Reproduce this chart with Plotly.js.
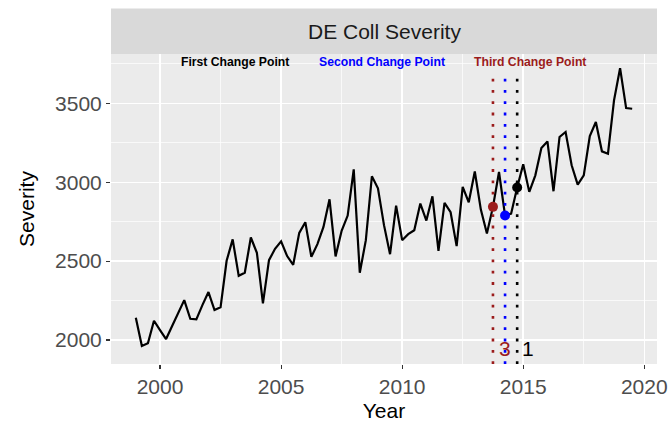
<!DOCTYPE html>
<html>
<head>
<meta charset="utf-8">
<script src="https://cdn.plot.ly/plotly-3.0.1.min.js"></script>
<style>html,body{margin:0;padding:0;background:#fff;}</style>
</head>
<body>
<div id="chart" style="width:672px;height:423px;"></div>
<script>
// Quarterly observations, 1999 Q1 .. 2019 Q3
const years = [];
for (let i = 0; i < 83; i++) years.push(1999 + i * 0.25);

const severity = [
  2141, 1962, 1979, 2122, 2063, 2006, 2089, 2171, 2253, 2135,
  2131, 2221, 2304, 2190, 2207, 2502, 2638, 2407, 2426, 2650,
  2553, 2232, 2506, 2578, 2625, 2532, 2477, 2679, 2747, 2527,
  2608, 2717, 2892, 2530, 2692, 2789, 3082, 2426, 2633, 3038,
  2962, 2728, 2544, 2852, 2633, 2671, 2696, 2865, 2757, 2911,
  2565, 2869, 2810, 2595, 2971, 2873, 3068, 2827, 2675, 2844,
  3065, 2789, 2801, 2967, 3114, 2939, 3044, 3217, 3259, 2943,
  3287, 3319, 3108, 2985, 3044, 3293, 3382, 3196, 3181, 3519,
  3723, 3470, 3466
];

const changeYears  = [2014.75, 2014.25, 2013.75];
const changeColors = ['#000000', '#0000FF', '#9B1C1C'];
const changeNames  = ['First Change Point', 'Second Change Point', 'Third Change Point'];
const labelX       = [2003.1, 2009.15, 2015.3];
const labelY       = 3761;
const rankText     = ['1', '3'];
const rankX        = [2015.2, 2014.25];
const rankColors   = ['#000000', '#9B1C1C'];
const rankY        = 1949;

const xRange = [1997.975, 2020.525];
const yRange = [1848, 3813];

const traces = [{
  x: years, y: severity, type: 'scatter', mode: 'lines',
  line: {color: '#000000', width: 2.2}, hoverinfo: 'skip', showlegend: false
}];

changeYears.forEach((cy, k) => {
  const idx = years.indexOf(cy);
  traces.push({
    x: [cy], y: [severity[idx]], type: 'scatter', mode: 'markers',
    marker: {color: changeColors[k], size: 10}, showlegend: false, hoverinfo: 'skip'
  });
});

const yTop = 3690;
const shapes = changeYears.map((cy, k) => ({
  type: 'line', xref: 'x', yref: 'y', x0: cy, x1: cy, y0: yRange[0], y1: yTop,
  line: {color: changeColors[k], width: 2.6, dash: '2.8px,8.5px'}, layer: 'above'
}));
const stripH = 45.5 / 310;
shapes.push({
  type: 'rect', xref: 'paper', yref: 'paper', x0: 0, x1: 1, y0: 1, y1: 1 + stripH,
  fillcolor: '#D9D9D9', line: {width: 0}
});

const annotations = [{
  xref: 'paper', yref: 'paper', x: 0.5, y: 1 + stripH / 2, text: 'DE Coll Severity',
  showarrow: false, xanchor: 'center', yanchor: 'middle',
  font: {family: 'Liberation Sans, Arial, sans-serif', size: 21, color: '#1A1A1A'}
}];
changeNames.forEach((n, k) => annotations.push({
  xref: 'x', yref: 'y', x: labelX[k], y: labelY, text: '<b>' + n + '</b>', showarrow: false,
  xanchor: 'center', yanchor: 'middle',
  font: {family: 'Liberation Sans, Arial, sans-serif', size: 12.2, color: changeColors[k]}
}));
rankText.forEach((t, k) => annotations.push({
  xref: 'x', yref: 'y', x: rankX[k], y: rankY, text: t, showarrow: false,
  xanchor: 'center', yanchor: 'middle',
  font: {family: 'Liberation Sans, Arial, sans-serif', size: 21, color: rankColors[k]}
}));

const axisCommon = {
  showline: false, zeroline: false, ticks: 'outside', ticklen: 4, tickwidth: 1.1,
  tickcolor: '#333333', gridcolor: '#FFFFFF', gridwidth: 1.5,
  tickfont: {family: 'Liberation Sans, Arial, sans-serif', size: 21, color: '#4D4D4D'}
};

const layout = {
  width: 672, height: 423,
  margin: {l: 111, r: 15, t: 54, b: 59, pad: 0},
  paper_bgcolor: '#FFFFFF', plot_bgcolor: '#EBEBEB',
  font: {family: 'Liberation Sans, Arial, sans-serif'},
  xaxis: Object.assign({}, axisCommon, {
    range: xRange, tickmode: 'array', tickvals: [2000, 2005, 2010, 2015, 2020],
    minor: {tickmode: 'array', tickvals: [2002.5, 2007.5, 2012.5, 2017.5], showgrid: true, gridcolor: '#FFFFFF', gridwidth: 0.7, ticks: ''},
    title: {text: 'Year', font: {size: 21, color: '#000000'}, standoff: 6}
  }),
  yaxis: Object.assign({}, axisCommon, {
    range: yRange, tickmode: 'array', tickvals: [2000, 2500, 3000, 3500],
    minor: {tickmode: 'array', tickvals: [2250, 2750, 3250, 3750], showgrid: true, gridcolor: '#FFFFFF', gridwidth: 0.7, ticks: ''},
    title: {text: 'Severity', font: {size: 21, color: '#000000'}, standoff: 14}
  }),
  shapes: shapes, annotations: annotations, showlegend: false
};

Plotly.newPlot('chart', traces, layout, {displayModeBar: false, staticPlot: true});
</script>
</body>
</html>
